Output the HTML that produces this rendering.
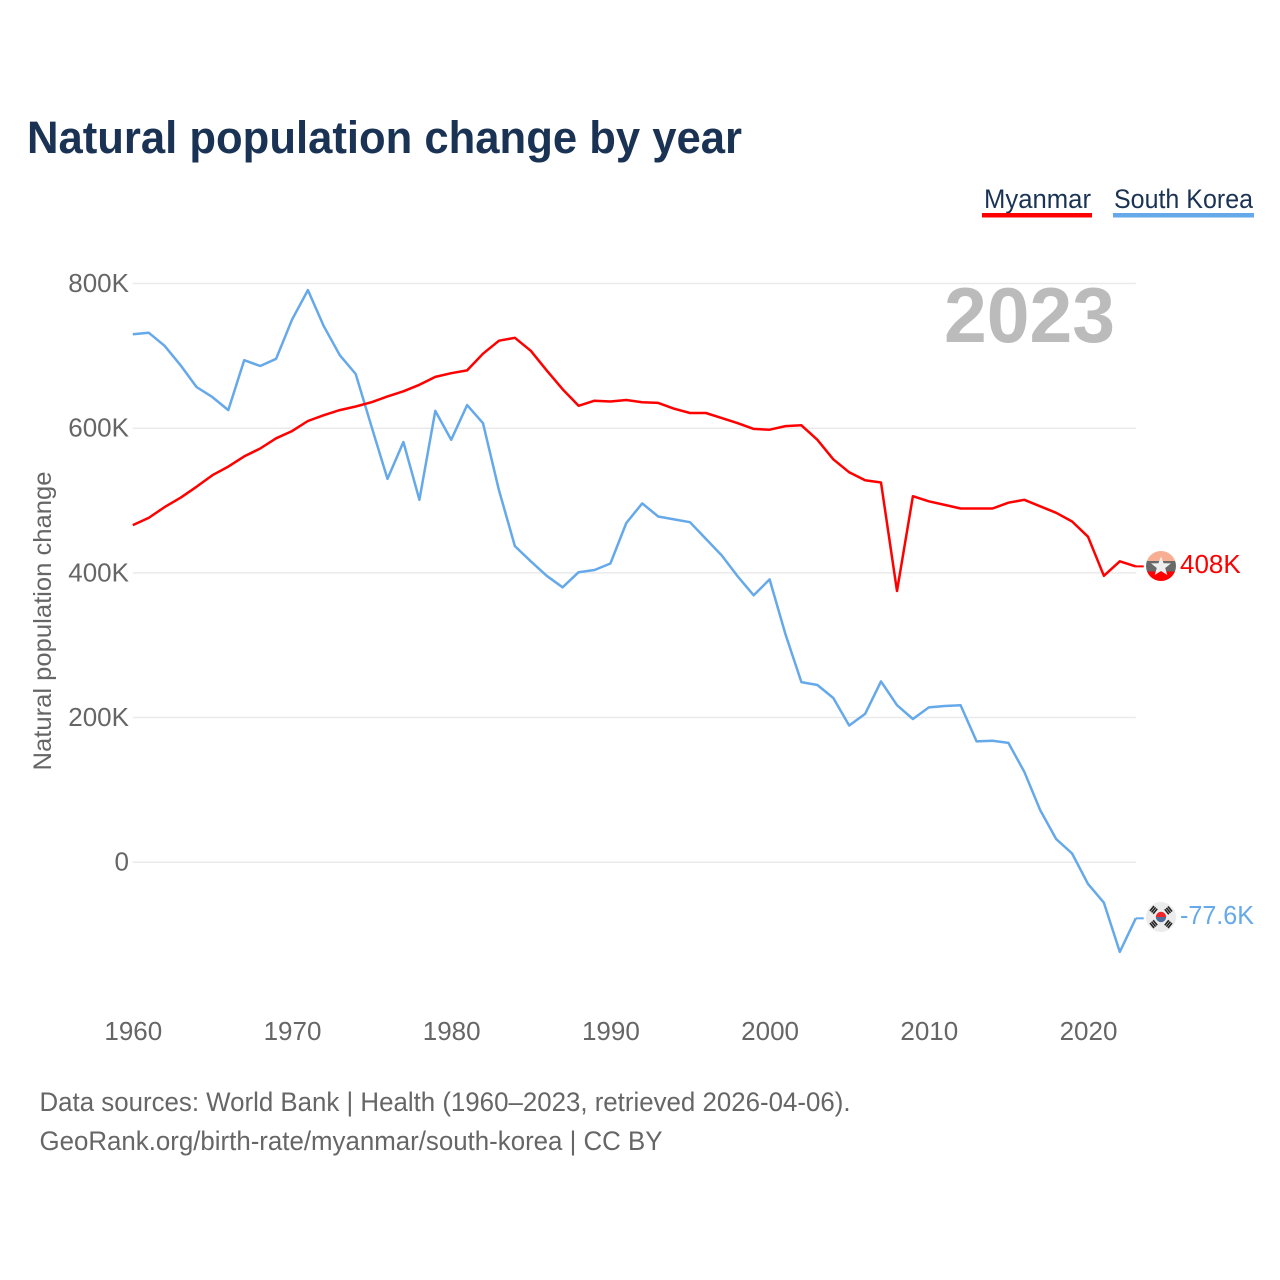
<!DOCTYPE html>
<html>
<head>
<meta charset="utf-8">
<style>
html,body{margin:0;padding:0;background:#fff;}
svg{display:block;font-family:"Liberation Sans",sans-serif;}
</style>
</head>
<body>
<svg id="chart" width="1280" height="1280" viewBox="0 0 1280 1280" xmlns="http://www.w3.org/2000/svg">
  <text x="27" y="153" font-size="45" font-weight="700" fill="#1a3354" textLength="715" lengthAdjust="spacingAndGlyphs">Natural population change by year</text>

  <g>
    <text x="984" y="208" font-size="27" fill="#1a3354" textLength="107" lengthAdjust="spacingAndGlyphs">Myanmar</text>
    <rect x="982" y="213" width="110" height="4.5" fill="#ff0000"/>
  </g>
  <g>
    <text x="1114" y="208" font-size="27" fill="#1a3354" textLength="139" lengthAdjust="spacingAndGlyphs">South Korea</text>
    <rect x="1113" y="213" width="141" height="4.5" fill="#65a9ea"/>
  </g>

  <g id="grid"></g>
  <g id="yticks"></g>
  <g id="xticks"></g>

  <text transform="translate(51,621) rotate(-90)" text-anchor="middle" font-size="25" fill="#666" textLength="299" lengthAdjust="spacingAndGlyphs">Natural population change</text>

  <text id="year-label" x="1115" y="342" text-anchor="end" font-size="78" font-weight="700" fill="#bbbbbb" textLength="171" lengthAdjust="spacingAndGlyphs">2023</text>

  <g id="series"></g>

  <g id="flag-myanmar">
    <clipPath id="clip-mm"><circle cx="1161" cy="566" r="15"/></clipPath>
    <g clip-path="url(#clip-mm)">
      <rect x="1146" y="551" width="30" height="10" fill="#f8ae93"/>
      <rect x="1146" y="561" width="30" height="10.5" fill="#696969"/>
      <rect x="1146" y="571.5" width="30" height="10" fill="#ff0000"/>
    </g>
    <polygon points="1161,556.5 1163.6,563.2 1171,563.4 1165.2,568 1167.3,575 1161,571 1154.7,575 1156.8,568 1151,563.4 1158.4,563.2" fill="#eeeeee"/>
  </g>

  <g id="flag-korea">
    <circle cx="1161" cy="917" r="15" fill="#ececec"/>
    <path d="M1155.8 917 a5.2 5.2 0 0 1 10.4 0 z" fill="#f0252b"/>
    <path d="M1155.8 917 a5.2 5.2 0 0 0 10.4 0 z" fill="#4f6f9c"/>
    <g stroke="#222" stroke-width="1.6" fill="none">
      <path d="M1151 911 l4 -5 M1152.6 912.4 l4 -5 M1154.2 913.8 l4 -5" transform="translate(-1,0)"/>
      <path d="M1167 906.5 l4 5 M1165.4 907.9 l4 5 M1163.8 909.3 l4 5" transform="translate(1,0)"/>
      <path d="M1151 923 l4 5 M1152.6 921.6 l4 5 M1154.2 920.2 l4 5" transform="translate(-1,0)"/>
      <path d="M1171 923 l-4 5 M1169.4 921.6 l-4 5 M1167.8 920.2 l-4 5" transform="translate(1,0)"/>
    </g>
  </g>

  <text id="value-myanmar" x="1180" y="573" font-size="26" fill="#ff0000">408K</text>
  <text id="value-korea" x="1180" y="924" font-size="26" fill="#65a9ea" textLength="74" lengthAdjust="spacingAndGlyphs">-77.6K</text>

  <text x="39.5" y="1111" font-size="26.5" fill="#666" textLength="811" lengthAdjust="spacingAndGlyphs">Data sources: World Bank | Health (1960–2023, retrieved 2026-04-06).</text>
  <a><text x="39.5" y="1150" font-size="26.5" fill="#666" textLength="623" lengthAdjust="spacingAndGlyphs">GeoRank.org/birth-rate/myanmar/south-korea | CC BY</text></a>
</svg>
<script>
const years = [1960,1961,1962,1963,1964,1965,1966,1967,1968,1969,1970,1971,1972,1973,1974,1975,1976,1977,1978,1979,1980,1981,1982,1983,1984,1985,1986,1987,1988,1989,1990,1991,1992,1993,1994,1995,1996,1997,1998,1999,2000,2001,2002,2003,2004,2005,2006,2007,2008,2009,2010,2011,2012,2013,2014,2015,2016,2017,2018,2019,2020,2021,2022,2023];
const myanmarValues = [466,476,491,504,519,535,547,561,572,586,596,610,618,625,630,636,644,651,660,671,676,680,703,721,725,707,680,654,631,638,637,639,636,635,627,621,621,614,607,599,598,603,604,584,557,539,528,525,375,506,499,494,489,489,489,497,501,492,483,471,450,396,416,409];
const koreaValues = [730,732,714,687,657,643,625,694,686,696,750,791,741,701,675,602,530,581,501,624,584,632,607,514,437,416,396,380,401,404,413,469,496,478,474,470,447,424,395,369,391,315,249,245,227,189,205,250,217,198,214,216,217,167,168,165,125,72,32,12,-30,-56,-124,-77.6];
const yTickValues = [0,200,400,600,800];
const yTickLabels = ['0','200K','400K','600K','800K'];
const xTickValues = [1960,1970,1980,1990,2000,2010,2020];

const NS = 'http://www.w3.org/2000/svg';
function xScale(year){ return 132.8 + (year - 1960) * 15.92; }
function yScale(v){ return 862.2 - v * 0.7233; }

const grid = document.getElementById('grid');
const yticks = document.getElementById('yticks');
const xticks = document.getElementById('xticks');
const series = document.getElementById('series');

yTickValues.forEach(function(v, i){
  const line = document.createElementNS(NS, 'line');
  
  
  line.setAttribute('x1', xScale(1960));
  line.setAttribute('x2', xScale(2023));
  line.setAttribute('y1', yScale(v));
  line.setAttribute('y2', yScale(v));
  line.setAttribute('stroke', '#eaeaea');
  line.setAttribute('stroke-width', '1.5');
  grid.appendChild(line);

  const t = document.createElementNS(NS, 'text');
  
  
  t.setAttribute('x', 129);
  t.setAttribute('y', yScale(v) + 8.5);
  t.setAttribute('text-anchor', 'end');
  t.setAttribute('font-size', '26');
  t.setAttribute('fill', '#666');
  t.textContent = yTickLabels[i];
  yticks.appendChild(t);
});

xTickValues.forEach(function(y){
  const t = document.createElementNS(NS, 'text');
  
  
  t.setAttribute('x', xScale(y) + 0.5);
  t.setAttribute('y', 1040);
  t.setAttribute('text-anchor', 'middle');
  t.setAttribute('font-size', '26');
  t.setAttribute('fill', '#666');
  t.textContent = String(y);
  xticks.appendChild(t);
});

function drawSeries(values, color, name){
  const pts = values.map(function(v, i){ return xScale(years[i]).toFixed(1) + ',' + yScale(v).toFixed(1); });
  const p = document.createElementNS(NS, 'polyline');
  
  
  p.setAttribute('points', pts.join(' '));
  p.setAttribute('fill', 'none');
  p.setAttribute('stroke', color);
  p.setAttribute('stroke-width', '2.5');
  p.setAttribute('stroke-linejoin', 'round');
  series.appendChild(p);

  const last = values[values.length - 1];
  const tail = document.createElementNS(NS, 'line');
  
  
  tail.setAttribute('x1', xScale(2023));
  tail.setAttribute('x2', xScale(2023) + 8);
  tail.setAttribute('y1', yScale(last));
  tail.setAttribute('y2', yScale(last));
  tail.setAttribute('stroke', color);
  tail.setAttribute('stroke-width', '2');
  series.appendChild(tail);
}
drawSeries(koreaValues, '#65a9ea', 'line-south-korea');
drawSeries(myanmarValues, '#ff0000', 'line-myanmar');
</script>
</body>
</html>
